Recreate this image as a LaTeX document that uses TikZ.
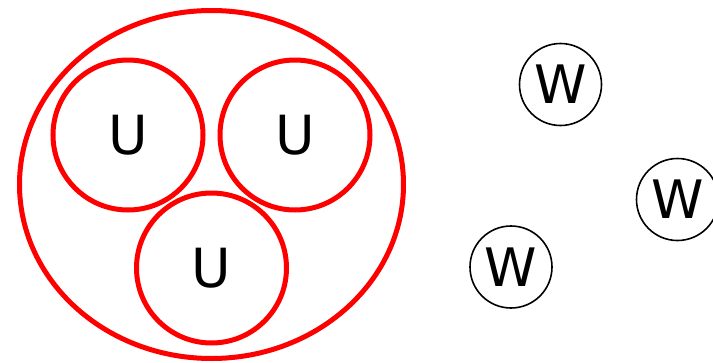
\documentclass[tikz,border=0pt]{standalone}
\usepackage{fontspec}
\newfontfamily\diagfont{DejaVu Sans}
\usetikzlibrary{shapes.geometric}

\begin{document}
\begin{tikzpicture}[x=1pt, y=-1pt,
		group/.style={draw=red, line width=5pt, ellipse, minimum width=384pt, minimum height=348pt, inner sep=0pt},
		unode/.style={draw=red, line width=5pt, circle, minimum size=150pt, inner sep=0pt, font=\diagfont\fontsize{54}{60}\selectfont},
		wnode/.style={draw=black, line width=1.6pt, circle, minimum size=82pt, inner sep=0pt, font=\diagfont\fontsize{53}{60}\selectfont}
		]
		\useasboundingbox (0,0) rectangle (713,362);
		
		% ======================
		% Group of U
		% ======================
		\node[group] (grp) at (211.5,184.5) {};
		
		\node[unode] (u1) at (128,135) {U};
		\node[unode] (u2) at (295,135) {U};
		\node[unode] (u3) at (211.5,268) {U};
		
		% ======================
		% Single W
		% ======================
		\node[wnode] (w1) at (560.5,84.5) {W};
		\node[wnode] (w2) at (677.5,199.5) {W};
		\node[wnode] (w3) at (511,267) {W};
		
\end{tikzpicture}
\end{document}
